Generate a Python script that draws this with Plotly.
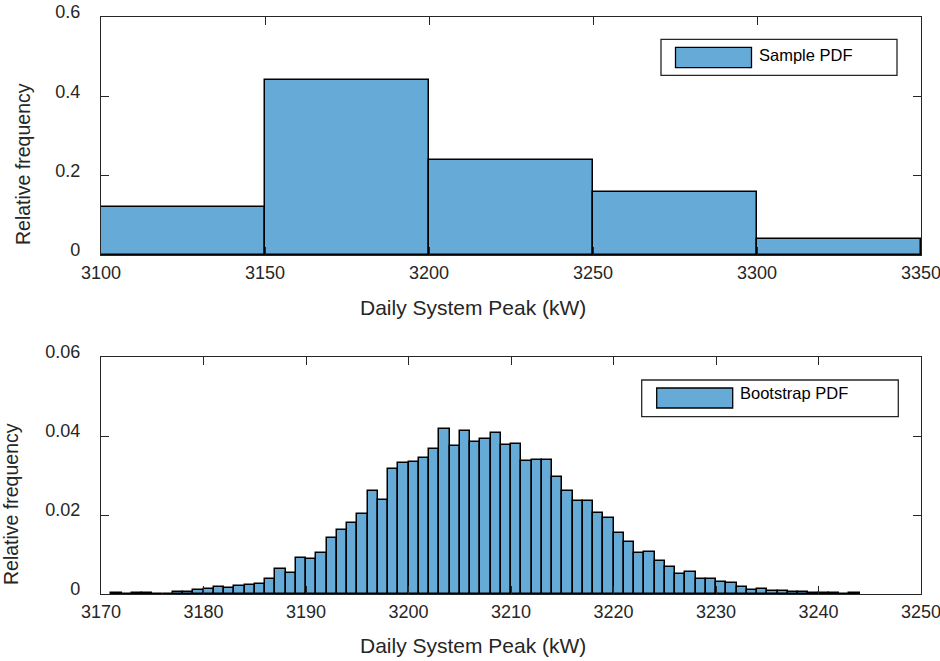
import plotly.graph_objects as go

# ---------------- data ----------------
sample_edges = [3100, 3150, 3200, 3250, 3300]
sample_width = 50
sample_freq = [0.12, 0.44, 0.24, 0.16, 0.04]

boot_edges = list(range(3171, 3244))
boot_width = 1
boot_freq = [
    0.0002, 0.0001, 0.0002, 0.0002, 0.0001, 0.0001, 0.0005, 0.0005, 0.0009, 0.0012,  # 3171-3180
    0.0017, 0.0014, 0.0021, 0.0023, 0.0025, 0.0037, 0.0063, 0.0054, 0.0092, 0.0088,  # 3181-3190
    0.0104, 0.0143, 0.0161, 0.0181, 0.0202, 0.0261, 0.0239, 0.0316, 0.0332, 0.0334,  # 3191-3200
    0.0344, 0.0367, 0.0417, 0.0375, 0.0413, 0.0385, 0.0392, 0.0407, 0.0377, 0.0380,  # 3201-3210
    0.0336, 0.0338, 0.0338, 0.0295, 0.0261, 0.0236, 0.0235, 0.0206, 0.0193, 0.0155,  # 3211-3220
    0.0132, 0.0105, 0.0107, 0.0083, 0.0068, 0.0050, 0.0056, 0.0038, 0.0037, 0.0031,  # 3221-3230
    0.0029, 0.0017, 0.0009, 0.0013, 0.0008, 0.0008, 0.0005, 0.0005, 0.0003, 0.0003,  # 3231-3240
    0.0003, 0.0001, 0.0003,                                                          # 3241-3243
]

top_xticks = [3100, 3150, 3200, 3250, 3300, 3350]
top_yticks = [0, 0.2, 0.4, 0.6]
top_yticklabels = ["0", "0.2", "0.4", "0.6"]
bot_xticks = [3170, 3180, 3190, 3200, 3210, 3220, 3230, 3240, 3250]
bot_yticks = [0, 0.02, 0.04, 0.06]
bot_yticklabels = ["0", "0.02", "0.04", "0.06"]

xlabel = "Daily System Peak (kW)"
ylabel = "Relative frequency"
legend_top = "Sample PDF"
legend_bot = "Bootstrap PDF"

# ---------------- style ----------------
W, H = 940, 661
L, R, T, B = 101, 19, 17, 67
PW = W - L - R          # 820
PH = H - T - B          # 577
BASE_PY = H - B         # pixel of paper y=0

FILL = "#66AAD7"
EDGE = "#000000"
AX = "#262626"
FONT = "Liberation Sans, Arial, Helvetica, sans-serif"


def px(xp):
    return (xp - L) / PW


def py(yp):
    return (BASE_PY - yp) / PH


top_dom = [py(255), 1.0]
bot_dom = [0.0, py(357)]

fig = go.Figure()
fig.add_trace(go.Bar(
    x=sample_edges, y=sample_freq, width=[sample_width] * len(sample_edges), offset=0,
    marker=dict(color=FILL, line=dict(color=EDGE, width=1.5)),
    xaxis="x", yaxis="y", showlegend=False, name=legend_top,
))
fig.add_trace(go.Bar(
    x=boot_edges, y=boot_freq, width=[boot_width] * len(boot_edges), offset=0,
    marker=dict(color=FILL, line=dict(color=EDGE, width=1.5)),
    xaxis="x2", yaxis="y2", showlegend=False, name=legend_bot,
))

axis_common = dict(
    showline=True, linecolor=AX, linewidth=1.3, mirror="ticks",
    ticks="inside", ticklen=8, tickwidth=1.1, tickcolor=AX,
    showgrid=False, zeroline=False, ticklabeloverflow="allow", automargin=False,
    tickfont=dict(family=FONT, size=18, color=AX),
)
x_extra = dict(ticklabelstandoff=1)
y_extra = dict(ticklabelstandoff=16, ticklabelshift=-5)

fig.update_layout(
    width=W, height=H,
    margin=dict(l=L, r=R, t=T, b=B, pad=0, autoexpand=False),
    paper_bgcolor="white", plot_bgcolor="white",
    bargap=0,
    xaxis=dict(domain=[0, 1], anchor="y", range=[3100, 3350.0001], tickvals=top_xticks,
               **x_extra, **axis_common),
    yaxis=dict(domain=top_dom, anchor="x", range=[0, 0.6], tickvals=top_yticks,
               ticktext=top_yticklabels, **y_extra, **axis_common),
    xaxis2=dict(domain=[0, 1], anchor="y2", range=[3170, 3250.0001], tickvals=bot_xticks,
                **x_extra, **axis_common),
    yaxis2=dict(domain=bot_dom, anchor="x2", range=[0, 0.06], tickvals=bot_yticks,
                ticktext=bot_yticklabels, **y_extra, **axis_common),
)

xtitle_font = dict(family=FONT, size=21, color=AX)
ytitle_font = dict(family=FONT, size=19.5, color=AX)
leg_font = dict(family=FONT, size=16.5, color="#000000")
annots = [
    dict(text=xlabel, x=px(472.5), y=py(307), xref="paper", yref="paper",
         xanchor="center", yanchor="middle", showarrow=False, font=xtitle_font),
    dict(text=xlabel, x=px(472.5), y=py(645), xref="paper", yref="paper",
         xanchor="center", yanchor="middle", showarrow=False, font=xtitle_font),
    dict(text=ylabel, x=px(23), y=py(164), xref="paper", yref="paper", textangle=-90,
         xanchor="center", yanchor="middle", showarrow=False, font=ytitle_font),
    dict(text=ylabel, x=px(11), y=py(504), xref="paper", yref="paper", textangle=-90,
         xanchor="center", yanchor="middle", showarrow=False, font=ytitle_font),
    dict(text=legend_top, x=px(757), y=py(55.5), xref="paper", yref="paper",
         xanchor="left", yanchor="middle", showarrow=False, font=leg_font),
    dict(text=legend_bot, x=px(738), y=py(393), xref="paper", yref="paper",
         xanchor="left", yanchor="middle", showarrow=False, font=leg_font),
]
fig.update_layout(annotations=annots)

shapes = [
    # top legend box + swatch
    dict(type="rect", xref="paper", yref="paper", x0=px(661), x1=px(897), y0=py(75.3), y1=py(39.3),
         line=dict(color=AX, width=1.3), fillcolor="white", layer="above"),
    dict(type="rect", xref="paper", yref="paper", x0=px(675.5), x1=px(751.5), y0=py(67.7), y1=py(47.3),
         line=dict(color=EDGE, width=1.3), fillcolor=FILL, layer="above"),
    # bottom legend box + swatch
    dict(type="rect", xref="paper", yref="paper", x0=px(641.7), x1=px(898.3), y0=py(416.7), y1=py(380),
         line=dict(color=AX, width=1.3), fillcolor="white", layer="above"),
    dict(type="rect", xref="paper", yref="paper", x0=px(656.7), x1=px(732.7), y0=py(408), y1=py(388),
         line=dict(color=EDGE, width=1.3), fillcolor=FILL, layer="above"),
]
fig.update_layout(shapes=shapes)

fig.write_html("out.html")
